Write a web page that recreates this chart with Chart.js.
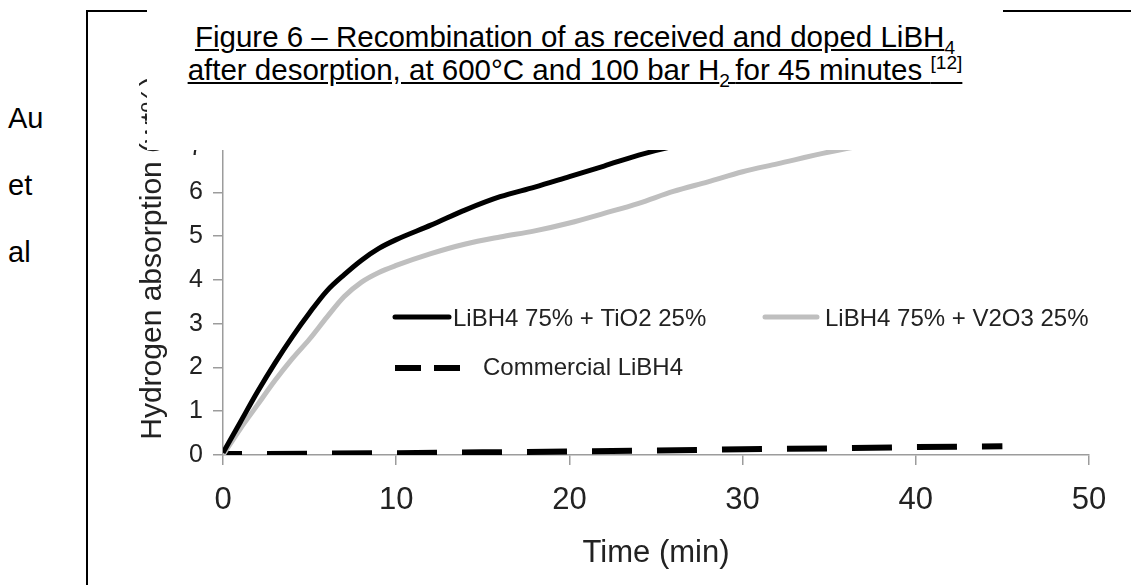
<!DOCTYPE html>
<html lang="en">
<head>
  <meta charset="UTF-8">
  <meta name="viewport" content="width=device-width, initial-scale=1.0">
  <title>Recombination of as received and doped LiBH4</title>
  <script src="https://cdn.jsdelivr.net/npm/chart.js"></script>
  <style>
    body {
      margin: 0;
      width: 1131px;
      height: 585px;
      overflow: hidden;
      background: #fff;
      position: relative;
      font-family: "Liberation Sans", Arial, sans-serif;
      color: #000;
    }
    .frame {
      position: absolute;
      left: 86px; top: 10px;
      width: 1100px; height: 600px;
      border-left: 2px solid #000;
      border-top: 2px solid #000;
    }
    .side { position: absolute; left: 8px; font-size: 29px; line-height: 29px; }
    #dataChart { position: absolute; left: 0; top: 0; filter: blur(0.5px); }
    .caption {
      position: absolute;
      left: 147px; top: 0;
      width: 856px; height: 150px;
      box-sizing: border-box;
      padding-top: 20px;
      background: #fff;
      text-align: center;
      font-size: 29.5px;
      line-height: 33px;
    }
    .caption sub, .caption sup { font-size: 0.65em; line-height: 0; }
  </style>
</head>
<body>
  <div class="frame"></div>
  <div class="side" style="top:104px">Au</div>
  <div class="side" style="top:171px">et</div>
  <div class="side" style="top:238px">al</div>

  <canvas id="dataChart" width="1131" height="585"></canvas>

  <div class="caption">
    <div><u>Figure 6 – Recombination of as received and doped LiBH<sub>4</sub></u></div>
    <div><u>after desorption, at 600°C and 100 bar H<sub>2 </sub>for 45 minutes <sup>[12]</sup></u></div>
  </div>

  <script>
    // Time axis (min) for the doped samples
    const timeMin = [0, 1, 2, 3, 4, 5, 6, 7, 8, 9, 10, 12, 14, 16, 18, 20, 22, 24, 26, 28, 30, 32, 35, 40, 45];
    // Hydrogen absorption (wt%)
    const tio2Doped = [0.05, 0.75, 1.45, 2.1, 2.7, 3.25, 3.75, 4.12, 4.45, 4.72, 4.92, 5.25, 5.6, 5.9, 6.12, 6.36, 6.6, 6.85, 7.05, 7.2, 7.3, 7.4, 7.55, 7.75, 7.9];
    const v2o3Doped = [0.0, 0.6, 1.15, 1.7, 2.2, 2.65, 3.15, 3.62, 3.95, 4.17, 4.33, 4.6, 4.82, 4.98, 5.12, 5.3, 5.52, 5.75, 6.02, 6.24, 6.47, 6.65, 6.92, 7.28, 7.58];

    // Commercial LiBH4 barely absorbs
    const commercialTime = [0, 5, 10, 15, 20, 25, 30, 35, 40, 45];
    const commercial = [0.02, 0.03, 0.04, 0.06, 0.08, 0.1, 0.13, 0.15, 0.18, 0.2];

    const seriesLabels = ['LiBH4 75% + TiO2 25%', 'LiBH4 75% + V2O3 25%', 'Commercial LiBH4'];

    const toPoints = (xs, ys) => xs.map((x, i) => ({ x: x, y: ys[i] }));

    const axisGrey = '#9c9c9c';
    const textColor = '#222';
    const fontFamily = '"Liberation Sans", Arial, sans-serif';

    // legend drawn inside the plot, two rows
    const inPlotLegend = {
      id: 'inPlotLegend',
      afterDatasetsDraw(chart, args, opts) {
        const ctx = chart.ctx;
        ctx.save();
        ctx.font = opts.fontSize + 'px ' + fontFamily;
        ctx.textBaseline = 'middle';
        ctx.textAlign = 'left';
        opts.items.forEach((it, i) => {
          const ds = chart.data.datasets[i];
          ctx.beginPath();
          ctx.strokeStyle = ds.borderColor;
          ctx.lineWidth = ds.borderWidth;
          ctx.lineCap = 'round';
          if (it.dash) { ctx.setLineDash(it.dash); ctx.lineCap = 'butt'; } else { ctx.setLineDash([]); }
          ctx.moveTo(it.x1, it.ly);
          ctx.lineTo(it.x2, it.ly);
          ctx.stroke();
          ctx.setLineDash([]);
          ctx.fillStyle = textColor;
          ctx.fillText(ds.label, it.tx, it.ty);
        });
        ctx.restore();
      }
    };

    const ctx = document.getElementById('dataChart').getContext('2d');
    const chart = new Chart(ctx, {
      type: 'line',
      data: {
        datasets: [
          {
            label: seriesLabels[0],
            data: toPoints(timeMin, tio2Doped),
            borderColor: '#000',
            borderWidth: 5,
            pointRadius: 0,
            cubicInterpolationMode: 'monotone'
          },
          {
            label: seriesLabels[1],
            data: toPoints(timeMin, v2o3Doped),
            borderColor: '#bfbfbf',
            borderWidth: 5,
            pointRadius: 0,
            cubicInterpolationMode: 'monotone'
          },
          {
            label: seriesLabels[2],
            data: toPoints(commercialTime, commercial),
            borderColor: '#000',
            borderWidth: 6,
            borderDash: [40, 25],
            borderDashOffset: 21,
            borderCapStyle: 'butt',
            pointRadius: 0
          }
        ]
      },
      options: {
        responsive: false,
        animation: false,
        devicePixelRatio: 1,
        layout: { padding: { left: 110, top: 61, right: 42, bottom: 0 } },
        plugins: {
          legend: { display: false },
          tooltip: { enabled: false },
          inPlotLegend: {
            fontSize: 24,
            items: [
              { x1: 395, x2: 449, ly: 317, tx: 453, ty: 319 },
              { x1: 765, x2: 817, ly: 317, tx: 825, ty: 319 },
              { x1: 395, x2: 462, ly: 368, tx: 483, ty: 368, dash: [26, 13] }
            ]
          }
        },
        scales: {
          x: {
            type: 'linear',
            min: 0,
            max: 50,
            ticks: { stepSize: 10, padding: 17, color: textColor, font: { family: fontFamily, size: 31 } },
            grid: { drawOnChartArea: false, tickLength: 10, color: axisGrey, lineWidth: 1.5 },
            border: { color: axisGrey, width: 1.5 },
            title: {
              display: true,
              text: 'Time (min)',
              color: textColor,
              font: { family: fontFamily, size: 31 },
              padding: { top: 0, bottom: 13 }
            },
            afterFit: (s) => { s.height = 130; }
          },
          y: {
            min: 0,
            max: 9,
            ticks: { stepSize: 1, padding: 10, color: textColor, font: { family: fontFamily, size: 25 } },
            grid: { drawOnChartArea: false, tickLength: 10, color: axisGrey, lineWidth: 1.5 },
            border: { color: axisGrey, width: 1.5 },
            title: {
              display: true,
              text: 'Hydrogen absorption (wt%)',
              color: textColor,
              font: { family: fontFamily, size: 30 },
              padding: { top: 25, bottom: 0 }
            },
            afterFit: (s) => { s.width = 113; }
          }
        }
      },
      plugins: [inPlotLegend]
    });
  </script>
</body>
</html>
